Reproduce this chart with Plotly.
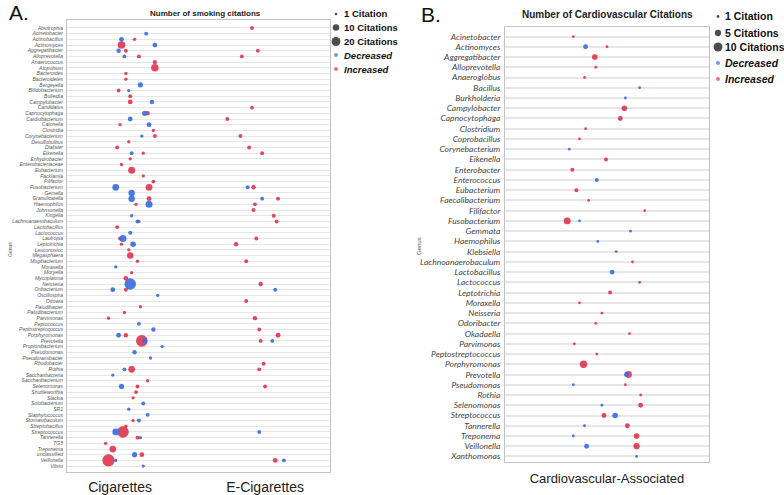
import numpy as np
import plotly.graph_objects as go

W, H = 784, 495

# ---------------- Panel A data ----------------
a_genera = ["Abiotrophia", "Acinetobacter", "Actinobacillus", "Actinomyces", "Aggregatibacter",
            "Alloprevotella", "Anaerococcus", "Atopobium", "Bacteroides", "Bacteroidetes",
            "Bergeyella", "Bifidobacterium", "Bulleidia", "Campylobacter", "Candidatus",
            "Capnocytophaga", "Cardiobacterium", "Catonella", "Clostridia", "Corynebacterium",
            "Desulfobulbus", "Dialister", "Eikenella", "Enhydrobacter", "Enterobacteriaceae",
            "Eubacterium", "Facklamia", "Filifactor", "Fusobacterium", "Gemella",
            "Granulicatella", "Haemophilus", "Johnsonella", "Kingella", "Lachnoanaerobaculum",
            "Lactobacillus", "Lactococcus", "Lautropia", "Leptotrichia", "Leuconostoc",
            "Megasphaera", "Mogibacterium", "Moraxella", "Moryella", "Mycoplasma",
            "Neisseria", "Oribacterium", "Oscillospira", "Ottowia", "Paludibacter",
            "Paludibacterium", "Parvimonas", "Peptococcus", "Peptostreptococcus", "Porphyromonas",
            "Prevotella", "Propionibacterium", "Pseudomonas", "Pseudoramibacter", "Rhodobacter",
            "Rothia", "Saccharibacteria", "Saccharibacterium", "Selenomonas", "Shuttleworthia",
            "Slackia", "Solobacterium", "SR1", "Staphylococcus", "Stomatobaculum",
            "Streptobacillus", "Streptococcus", "Tannerella", "TG5", "Treponema",
            "unclassified", "Veillonella", "Vibrio"]
a_xcats = ["Cigarettes", "E-Cigarettes"]

# Cigarettes points: genus, direction (D=decreased, I=increased), jitter position, citations
cig_genus = ["Acinetobacter", "Actinobacillus", "Actinobacillus", "Actinomyces", "Actinomyces",
             "Aggregatibacter", "Aggregatibacter", "Alloprevotella", "Alloprevotella", "Anaerococcus",
             "Atopobium", "Bacteroides", "Bacteroidetes", "Bergeyella", "Bifidobacterium",
             "Bifidobacterium", "Bulleidia", "Campylobacter", "Campylobacter", "Capnocytophaga",
             "Capnocytophaga", "Cardiobacterium", "Catonella", "Catonella", "Clostridia",
             "Corynebacterium", "Corynebacterium", "Desulfobulbus", "Dialister", "Eikenella",
             "Eikenella", "Enhydrobacter", "Enterobacteriaceae", "Eubacterium", "Facklamia",
             "Filifactor", "Fusobacterium", "Fusobacterium", "Gemella", "Granulicatella",
             "Granulicatella", "Haemophilus", "Haemophilus", "Kingella", "Lachnoanaerobaculum",
             "Lachnoanaerobaculum", "Lactobacillus", "Lactococcus", "Lautropia", "Lautropia",
             "Leptotrichia", "Leptotrichia", "Leuconostoc", "Megasphaera", "Mogibacterium",
             "Moraxella", "Moryella", "Mycoplasma", "Neisseria", "Oribacterium",
             "Oribacterium", "Oscillospira", "Paludibacter", "Paludibacterium", "Parvimonas",
             "Peptococcus", "Peptostreptococcus", "Porphyromonas", "Porphyromonas", "Prevotella",
             "Prevotella", "Propionibacterium", "Pseudomonas", "Pseudoramibacter", "Rothia",
             "Rothia", "Saccharibacteria", "Saccharibacterium", "Selenomonas", "Selenomonas",
             "Shuttleworthia", "Slackia", "Solobacterium", "SR1", "Staphylococcus",
             "Stomatobaculum", "Stomatobaculum", "Streptobacillus", "Streptococcus", "Streptococcus",
             "Tannerella", "Tannerella", "TG5", "Treponema", "unclassified",
             "unclassified", "Veillonella", "Veillonella", "Vibrio"]
cig_dir = ["D", "D", "I", "I", "D",
           "D", "I", "D", "I", "I",
           "I", "I", "I", "D", "I",
           "D", "I", "I", "D", "D",
           "I", "D", "I", "D", "I",
           "D", "I", "I", "I", "D",
           "I", "I", "I", "I", "I",
           "I", "D", "I", "D", "D",
           "I", "D", "I", "D", "D",
           "I", "I", "D", "D", "I",
           "I", "D", "I", "I", "I",
           "D", "I", "I", "D", "D",
           "I", "D", "I", "I", "I",
           "D", "D", "D", "I", "I",
           "D", "D", "D", "D", "D",
           "I", "D", "I", "D", "I",
           "I", "I", "D", "D", "D",
           "I", "D", "I", "D", "I",
           "I", "D", "I", "I", "D",
           "I", "I", "D", "D"]
cig_pos = [0.18, 0.01, 0.10, 0.01, 0.24,
           -0.01, 0.04, 0.03, 0.13, 0.24,
           0.24, 0.04, 0.04, 0.14, -0.01,
           0.06, 0.07, 0.07, 0.22, 0.17,
           0.19, 0.07, 0.00, 0.20, 0.23,
           0.15, 0.24, 0.06, -0.02, 0.08,
           0.16, 0.07, 0.01, 0.08, 0.16,
           0.23, -0.03, 0.20, 0.08, 0.08,
           0.20, 0.20, 0.11, 0.08, 0.12,
           0.13, -0.02, 0.07, 0.02, 0.00,
           0.01, 0.09, 0.06, 0.07, 0.12,
           -0.03, 0.08, 0.04, 0.07, -0.05,
           0.04, 0.26, 0.14, 0.03, -0.08,
           0.13, 0.23, -0.01, 0.04, 0.15,
           0.17, 0.29, 0.10, 0.21, 0.03,
           0.08, -0.05, 0.19, 0.01, 0.12,
           0.11, 0.09, 0.16, 0.06, 0.19,
           0.09, 0.13, 0.04, -0.03, 0.02,
           0.12, 0.14, -0.10, -0.05, 0.10,
           0.15, -0.08, -0.03, 0.16]
cig_n = [3, 5, 2, 14, 5,
         4, 3, 3, 3, 4,
         14, 2, 2, 6, 3,
         2, 3, 5, 4, 6,
         4, 5, 2, 5, 2,
         2, 3, 2, 3, 3,
         2, 2, 2, 12, 2,
         3, 11, 11, 10, 10,
         5, 12, 2, 2, 3,
         2, 3, 3, 12, 3,
         2, 7, 2, 10, 2,
         2, 2, 5, 36, 5,
         3, 2, 2, 2, 2,
         3, 4, 5, 4, 36,
         6, 2, 4, 2, 3,
         11, 2, 2, 6, 3,
         3, 2, 3, 2, 3,
         2, 3, 2, 11, 36,
         3, 2, 2, 11, 6,
         5, 40, 2, 2]

ecig_genus = ["Abiotrophia", "Aggregatibacter", "Alloprevotella", "Candidatus", "Cardiobacterium",
              "Corynebacterium", "Dialister", "Eikenella", "Fusobacterium", "Fusobacterium",
              "Granulicatella", "Granulicatella", "Haemophilus", "Johnsonella", "Kingella",
              "Lachnoanaerobaculum", "Lautropia", "Leptotrichia", "Mogibacterium", "Neisseria",
              "Oribacterium", "Ottowia", "Parvimonas", "Peptostreptococcus", "Porphyromonas",
              "Prevotella", "Prevotella", "Rhodobacter", "Rothia", "Selenomonas",
              "Streptococcus", "Veillonella", "Veillonella"]
ecig_dir = ["I", "I", "I", "I", "I",
            "I", "I", "I", "D", "I",
            "D", "I", "I", "I", "I",
            "I", "I", "I", "I", "I",
            "D", "I", "I", "I", "I",
            "I", "D", "I", "I", "I",
            "D", "I", "D"]
ecig_pos = [0.91, 0.95, 0.84, 0.91, 0.74,
            0.83, 0.89, 0.98, 0.88, 0.92,
            0.98, 1.09, 0.93, 0.92, 1.06,
            1.08, 0.94, 0.80, 0.87, 0.97,
            1.07, 0.87, 0.93, 0.96, 1.09,
            0.97, 1.05, 0.99, 0.96, 1.00,
            0.96, 1.07, 1.13]
ecig_n = [3, 3, 3, 3, 3,
          3, 3, 3, 3, 4,
          3, 3, 3, 3, 3,
          3, 3, 4, 3, 4,
          3, 3, 4, 3, 5,
          3, 3, 3, 3, 3,
          3, 5, 3]

# ---------------- Panel B data ----------------
b_genera = ["Acinetobacter", "Actinomyces", "Aggregatibacter", "Alloprevotella", "Anaeroglobus",
            "Bacillus", "Burkholderia", "Campylobacter", "Capnocytophaga", "Clostridium",
            "Coprobacillus", "Corynebacterium", "Eikenella", "Enterobacter", "Enterococcus",
            "Eubacterium", "Faecalibacterium", "Filifactor", "Fusobacterium", "Gemmata",
            "Haemophilus", "Klebsiella", "Lachnoanaerobaculum", "Lactobacillus", "Lactococcus",
            "Leptotrichia", "Moraxella", "Neisseria", "Odoribacter", "Okadaella",
            "Parvimonas", "Peptostreptococcus", "Porphyromonas", "Prevotella", "Pseudomonas",
            "Rothia", "Selenomonas", "Streptococcus", "Tannerella", "Treponema",
            "Veillonella", "Xanthomonas"]
b_xcat = "Cardiovascular-Associated"

cv_genus = ["Acinetobacter", "Actinomyces", "Actinomyces", "Aggregatibacter", "Alloprevotella",
            "Anaeroglobus", "Bacillus", "Burkholderia", "Campylobacter", "Capnocytophaga",
            "Clostridium", "Coprobacillus", "Corynebacterium", "Eikenella", "Enterobacter",
            "Enterococcus", "Eubacterium", "Faecalibacterium", "Filifactor", "Fusobacterium",
            "Fusobacterium", "Gemmata", "Haemophilus", "Klebsiella", "Lachnoanaerobaculum",
            "Lactobacillus", "Lactococcus", "Leptotrichia", "Moraxella", "Neisseria",
            "Odoribacter", "Okadaella", "Parvimonas", "Peptostreptococcus", "Porphyromonas",
            "Prevotella", "Prevotella", "Pseudomonas", "Pseudomonas", "Rothia",
            "Selenomonas", "Selenomonas", "Streptococcus", "Streptococcus", "Tannerella",
            "Tannerella", "Treponema", "Treponema", "Veillonella", "Veillonella",
            "Xanthomonas"]
cv_dir = ["I", "D", "I", "I", "I",
          "I", "D", "D", "I", "I",
          "I", "I", "D", "I", "I",
          "D", "I", "I", "I", "I",
          "D", "D", "D", "D", "I",
          "D", "I", "I", "I", "I",
          "I", "I", "I", "I", "I",
          "I", "D", "D", "I", "I",
          "D", "I", "I", "D", "D",
          "I", "D", "I", "D", "I",
          "D"]
cv_pos = [-0.33, -0.21, 0.00, -0.12, -0.11,
          -0.22, 0.32, 0.18, 0.17, 0.13,
          -0.21, -0.27, -0.37, -0.01, -0.34,
          -0.10, -0.30, -0.18, 0.37, -0.39,
          -0.27, 0.23, -0.09, 0.09, 0.25,
          0.05, 0.32, 0.03, -0.27, -0.05,
          -0.11, 0.22, -0.32, -0.10, -0.23,
          0.21, 0.19, -0.33, 0.18, 0.33,
          -0.05, 0.33, -0.03, 0.08, -0.22,
          0.20, -0.33, 0.29, -0.20, 0.29,
          0.29]
cv_n = [1, 3, 1, 4, 1,
        1, 1, 1, 4, 3,
        1, 1, 1, 2, 2,
        2, 2, 1, 1, 6,
        1, 1, 1, 1, 1,
        3, 1, 2, 1, 1,
        1, 1, 1, 1, 7,
        6, 3, 1, 1, 1,
        1, 3, 3, 4, 1,
        3, 1, 4, 3, 5,
        1]

BLUE = "#3a6fe2"
RED = "#e0374f"
COL = {"D": BLUE, "I": RED}


def size_a(n):
    return 1.8 * np.sqrt(np.asarray(n, dtype=float)) + 0.8


def size_b(n):
    return 2.8 * np.sqrt(np.asarray(n, dtype=float))


def px(x):
    return x / W


def py(y):
    return 1 - y / H


fig = go.Figure()


def add_points(genus, dirs, pos, n, xa, ya, sizefn):
    for d in ["I", "D"]:
        idx = [i for i, v in enumerate(dirs) if v == d]
        fig.add_trace(go.Scatter(
            x=[pos[i] for i in idx], y=[genus[i] for i in idx],
            mode="markers", xaxis=xa, yaxis=ya, showlegend=False,
            marker=dict(color=COL[d], size=sizefn([n[i] for i in idx]),
                        line=dict(width=0), opacity=0.92),
            hovertemplate="%{y}<extra></extra>"))


add_points(cig_genus, cig_dir, cig_pos, cig_n, "x", "y", size_a)
add_points(ecig_genus, ecig_dir, ecig_pos, ecig_n, "x", "y", size_a)
add_points(cv_genus, cv_dir, cv_pos, cv_n, "x2", "y2", size_b)

# ---------------- legends (keys on a full-page axis in pixel units) ----------------
legA_n = [1, 10, 20]
legB_n = [1, 5, 10]
legA_y = [14, 27.5, 41.5, 55, 69]
legB_y = [16.5, 33, 47, 63, 79]
fig.add_trace(go.Scatter(
    x=[336] * 5, y=legA_y, mode="markers", xaxis="x3", yaxis="y3",
    showlegend=False, hoverinfo="skip",
    marker=dict(color=["#000", "#000", "#000", BLUE, RED],
                size=list(size_a(legA_n)) + [4, 4], line=dict(width=0))))
fig.add_trace(go.Scatter(
    x=[718] * 5, y=legB_y, mode="markers", xaxis="x3", yaxis="y3",
    showlegend=False, hoverinfo="skip",
    marker=dict(color=["#000", "#000", "#000", BLUE, RED],
                size=list(size_b(legB_n)) + [4, 4], line=dict(width=0))))

annotations = []
legA_text = ["<b>1 Citation</b>", "<b>10 Citations</b>", "<b>20 Citations</b>",
             "<b><i>Decreased</i></b>", "<b><i>Increased</i></b>"]
legB_text = ["<b>1 Citation</b>", "<b>5 Citations</b>", "<b>10 Citations</b>",
             "<b><i>Decreased</i></b>", "<b><i>Increased</i></b>"]
for t, yy in zip(legA_text, legA_y):
    annotations.append(dict(text=t, x=px(342), y=py(yy), xref="paper", yref="paper",
                            xanchor="left", yanchor="middle", showarrow=False,
                            font=dict(size=9.5, color="#111", family="Liberation Sans")))
for t, yy in zip(legB_text, legB_y):
    annotations.append(dict(text=t, x=px(723), y=py(yy), xref="paper", yref="paper",
                            xanchor="left", yanchor="middle", showarrow=False,
                            font=dict(size=10.5, color="#111", family="Liberation Sans")))

# titles, panel letters, axis titles
annotations += [
    dict(text="<b>Number of smoking citations</b>", x=px(205), y=py(14), xref="paper", yref="paper",
         xanchor="center", yanchor="middle", showarrow=False,
         font=dict(size=8, color="#222", family="Liberation Sans")),
    dict(text="<b>Number of Cardiovascular Citations</b>", x=px(607), y=py(15), xref="paper",
         yref="paper", xanchor="center", yanchor="middle", showarrow=False,
         font=dict(size=10, color="#222", family="Liberation Sans")),
    dict(text="A.", x=px(7), y=py(13), xref="paper", yref="paper", xanchor="left",
         yanchor="middle", showarrow=False, font=dict(size=21, color="#111", family="Liberation Sans")),
    dict(text="B.", x=px(419), y=py(15), xref="paper", yref="paper", xanchor="left",
         yanchor="middle", showarrow=False, font=dict(size=21, color="#111", family="Liberation Sans")),
    dict(text="Genus", x=px(10), y=py(250), xref="paper", yref="paper", textangle=-90,
         xanchor="center", yanchor="middle", showarrow=False,
         font=dict(size=5, color="#555", family="Liberation Sans")),
    dict(text="Genus", x=px(419), y=py(246), xref="paper", yref="paper", textangle=-90,
         xanchor="center", yanchor="middle", showarrow=False,
         font=dict(size=6, color="#555", family="Liberation Sans")),
]

grid = "#e6e6e6"
frame = "#c4c4c4"

fig.update_layout(
    width=W, height=H, margin=dict(l=0, r=0, t=0, b=0),
    paper_bgcolor="white", plot_bgcolor="rgba(0,0,0,0)", showlegend=False,
    annotations=annotations,
    xaxis=dict(domain=[px(67), px(330)], range=[-0.366, 1.448], tickmode="array",
               tickvals=[0, 1], ticktext=a_xcats, showgrid=False, zeroline=False,
               showline=True, mirror=True, linecolor=frame, linewidth=1, ticks="", ticklen=0,
               tickfont=dict(size=14, color="#222", family="Liberation Sans"),
               ticklabelstandoff=2),
    yaxis=dict(domain=[py(472), py(20)], type="category", categoryorder="array",
               categoryarray=a_genera, tickmode="array", tickvals=a_genera, ticktext=a_genera,
               range=[78.04, -1.4], showgrid=True, gridcolor=grid, gridwidth=1,
               zeroline=False, showline=True, mirror=True, linecolor=frame, linewidth=1,
               ticks="", ticklen=0, ticklabelstandoff=2,
               tickfont=dict(size=5, color="#555", family="Liberation Sans", style="italic")),
    xaxis2=dict(domain=[px(505), px(709)], range=[-1, 1], tickmode="array", tickvals=[0],
                ticktext=[b_xcat], showgrid=False, zeroline=False, showline=True, mirror=True,
                linecolor=frame, linewidth=1, ticks="", ticklen=0, anchor="y2",
                tickfont=dict(size=13, color="#222", family="Liberation Sans"),
                ticklabelstandoff=4),
    yaxis2=dict(domain=[py(462), py(27)], type="category", categoryorder="array",
                categoryarray=b_genera, tickmode="array", tickvals=b_genera, ticktext=b_genera,
                range=[41.54, -0.93], showgrid=True, gridcolor=grid, gridwidth=1.5,
                zeroline=False, showline=True, mirror=True, linecolor=frame, linewidth=1,
                ticks="", ticklen=0, anchor="x2", ticklabelstandoff=2,
                tickfont=dict(size=8.5, color="#444", family="Lato", style="italic")),
    xaxis3=dict(domain=[0, 1], range=[0, W], visible=False, anchor="y3", fixedrange=True),
    yaxis3=dict(domain=[0, 1], range=[H, 0], visible=False, anchor="x3", fixedrange=True),
)

# remove the browser's default 8 px page margin so the figure fills the window exactly
fig.write_html("out.html", config={"displayModeBar": False},
               post_script="document.body.style.margin='0';")
